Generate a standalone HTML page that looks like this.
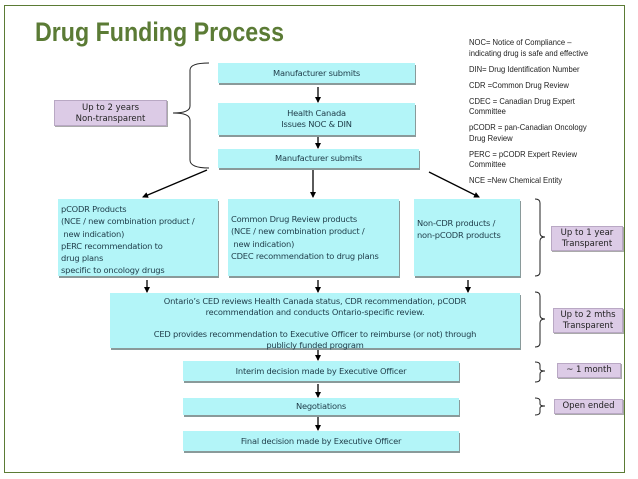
<!DOCTYPE html>
<html><head><meta charset="utf-8"><style>
body{margin:0;width:638px;height:479px;background:#fff;position:relative;overflow:hidden;font-family:"DejaVu Sans","Liberation Sans",sans-serif;}
.a{position:absolute;}
.frame{left:4px;top:5px;width:619px;height:466px;border:1px solid #5b7b35;}
.title{left:35px;top:17px;font-family:"Liberation Sans",sans-serif;font-weight:bold;font-size:27px;color:#5b7b35;transform:scaleX(0.86);transform-origin:left top;white-space:nowrap;}
.box{position:absolute;background:#b3f5f8;box-shadow:1px 2px 0 #8a9a9a;font-size:8.3px;color:#1e3b48;text-align:center;box-sizing:border-box;line-height:10.5px;letter-spacing:-0.2px;white-space:nowrap;}
.lb{text-align:left;padding-left:3px;}
.pur{position:absolute;background:#dccbe6;border:1px solid #b9a8c4;box-shadow:1px 1px 0 #aaa;font-size:8.5px;color:#222;text-align:center;box-sizing:border-box;line-height:11px;}
.leg{left:469px;top:37px;font-family:"Liberation Sans",sans-serif;font-size:8.3px;color:#222;line-height:10.5px;transform:scaleX(0.92);transform-origin:left top;white-space:nowrap;}
.leg div{margin-bottom:5.5px;}
</style></head><body>
<div class="a frame"></div>
<div class="a title">Drug Funding Process</div>

<div class="a leg">
<div>NOC= Notice of Compliance –<br>indicating drug is safe and effective</div>
<div>DIN= Drug Identification Number</div>
<div>CDR =Common Drug Review</div>
<div>CDEC = Canadian Drug Expert<br>Committee</div>
<div>pCODR = pan-Canadian Oncology<br>Drug Review</div>
<div>PERC = pCODR Expert Review<br>Committee</div>
<div>NCE =New Chemical Entity</div>
</div>

<div class="box" style="left:218px;top:63px;width:197px;height:20px;line-height:20px;">Manufacturer submits</div>
<div class="box" style="left:218px;top:103px;width:197px;height:32px;padding-top:5px;">Health Canada<br>Issues NOC &amp; DIN</div>
<div class="box" style="left:218px;top:149px;width:201px;height:19px;line-height:19px;">Manufacturer submits</div>

<div class="box lb" style="left:58px;top:199px;width:160px;height:77px;padding-top:4px;line-height:12.3px;">pCODR Products<br>(NCE / new combination product /<br>&nbsp;new indication)<br>pERC recommendation to<br>drug plans<br>specific to oncology drugs</div>
<div class="box lb" style="left:228px;top:199px;width:171px;height:77px;padding-top:14px;line-height:12.3px;">Common Drug Review products<br>(NCE / new combination product /<br>&nbsp;new indication)<br>CDEC recommendation to drug plans</div>
<div class="box lb" style="left:414px;top:199px;width:106px;height:77px;padding-top:18px;line-height:12.3px;">Non-CDR products /<br>non-pCODR products</div>

<div class="box" style="left:110px;top:293px;width:410px;height:55px;padding-top:3px;line-height:11px;">Ontario’s CED reviews Health Canada status, CDR recommendation, pCODR<br>recommendation and conducts Ontario-specific review.<br><br>CED provides recommendation to Executive Officer to reimburse (or not) through<br>publicly funded program</div>
<div class="box" style="left:183px;top:361px;width:276px;height:20px;line-height:20px;">Interim decision made by Executive Officer</div>
<div class="box" style="left:183px;top:398px;width:276px;height:17px;line-height:17px;">Negotiations</div>
<div class="box" style="left:183px;top:431px;width:276px;height:20px;line-height:20px;">Final decision made by Executive Officer</div>

<div class="pur" style="left:54px;top:100px;width:113px;height:26px;padding-top:2px;">Up to 2 years<br>Non-transparent</div>
<div class="pur" style="left:551px;top:226px;width:72px;height:25px;padding-top:1px;">Up to 1 year<br>Transparent</div>
<div class="pur" style="left:553px;top:308px;width:70px;height:25px;padding-top:1px;">Up to 2 mths<br>Transparent</div>
<div class="pur" style="left:557px;top:363px;width:64px;height:15px;line-height:13px;">~ 1 month</div>
<div class="pur" style="left:554px;top:399px;width:69px;height:15px;line-height:13px;">Open ended</div>

<svg class="a" style="left:0;top:0" width="638" height="479">
<defs><marker id="m" markerWidth="6" markerHeight="6" refX="5" refY="3" orient="auto" markerUnits="userSpaceOnUse"><path d="M0,0 L6,3 L0,6 z" fill="#000"/></marker></defs>
<g stroke="#000" stroke-width="1.3" fill="none" marker-end="url(#m)">
<line x1="318" y1="87" x2="318" y2="102"/>
<line x1="318" y1="137" x2="318" y2="148"/>
<line x1="207" y1="170" x2="143" y2="197"/>
<line x1="313" y1="170" x2="313" y2="197"/>
<line x1="429" y1="172" x2="479" y2="197"/>
<line x1="147" y1="280" x2="147" y2="292"/>
<line x1="318" y1="280" x2="318" y2="292"/>
<line x1="468" y1="280" x2="468" y2="292"/>
<line x1="318" y1="350" x2="318" y2="360"/>
<line x1="318" y1="384" x2="318" y2="397"/>
<line x1="318" y1="417" x2="318" y2="430"/>
</g>
<g stroke="#222" stroke-width="1" fill="none">
<path d="M209,63 Q190,63 190,70 L190,106 Q190,113 173,113 Q190,113 190,120 L190,160 Q190,168 209,168"/>
<path d="M535,199 Q540,199 540,203 L540,233 Q540,237 545,237 Q540,237 540,241 L540,272 Q540,276 535,276"/>
<path d="M535,292 Q540,292 540,296 L540,315 Q540,319 545,319 Q540,319 540,323 L540,343 Q540,347 535,347"/>
<path d="M535,362 Q540,362 540,365 L540,369 Q540,371 545,371 Q540,371 540,374 L540,379 Q540,382 535,382"/>
<path d="M535,398 Q540,398 540,401 L540,404 Q540,406 545,406 Q540,406 540,408 L540,412 Q540,415 535,415"/>
</g>
</svg>
</body></html>
